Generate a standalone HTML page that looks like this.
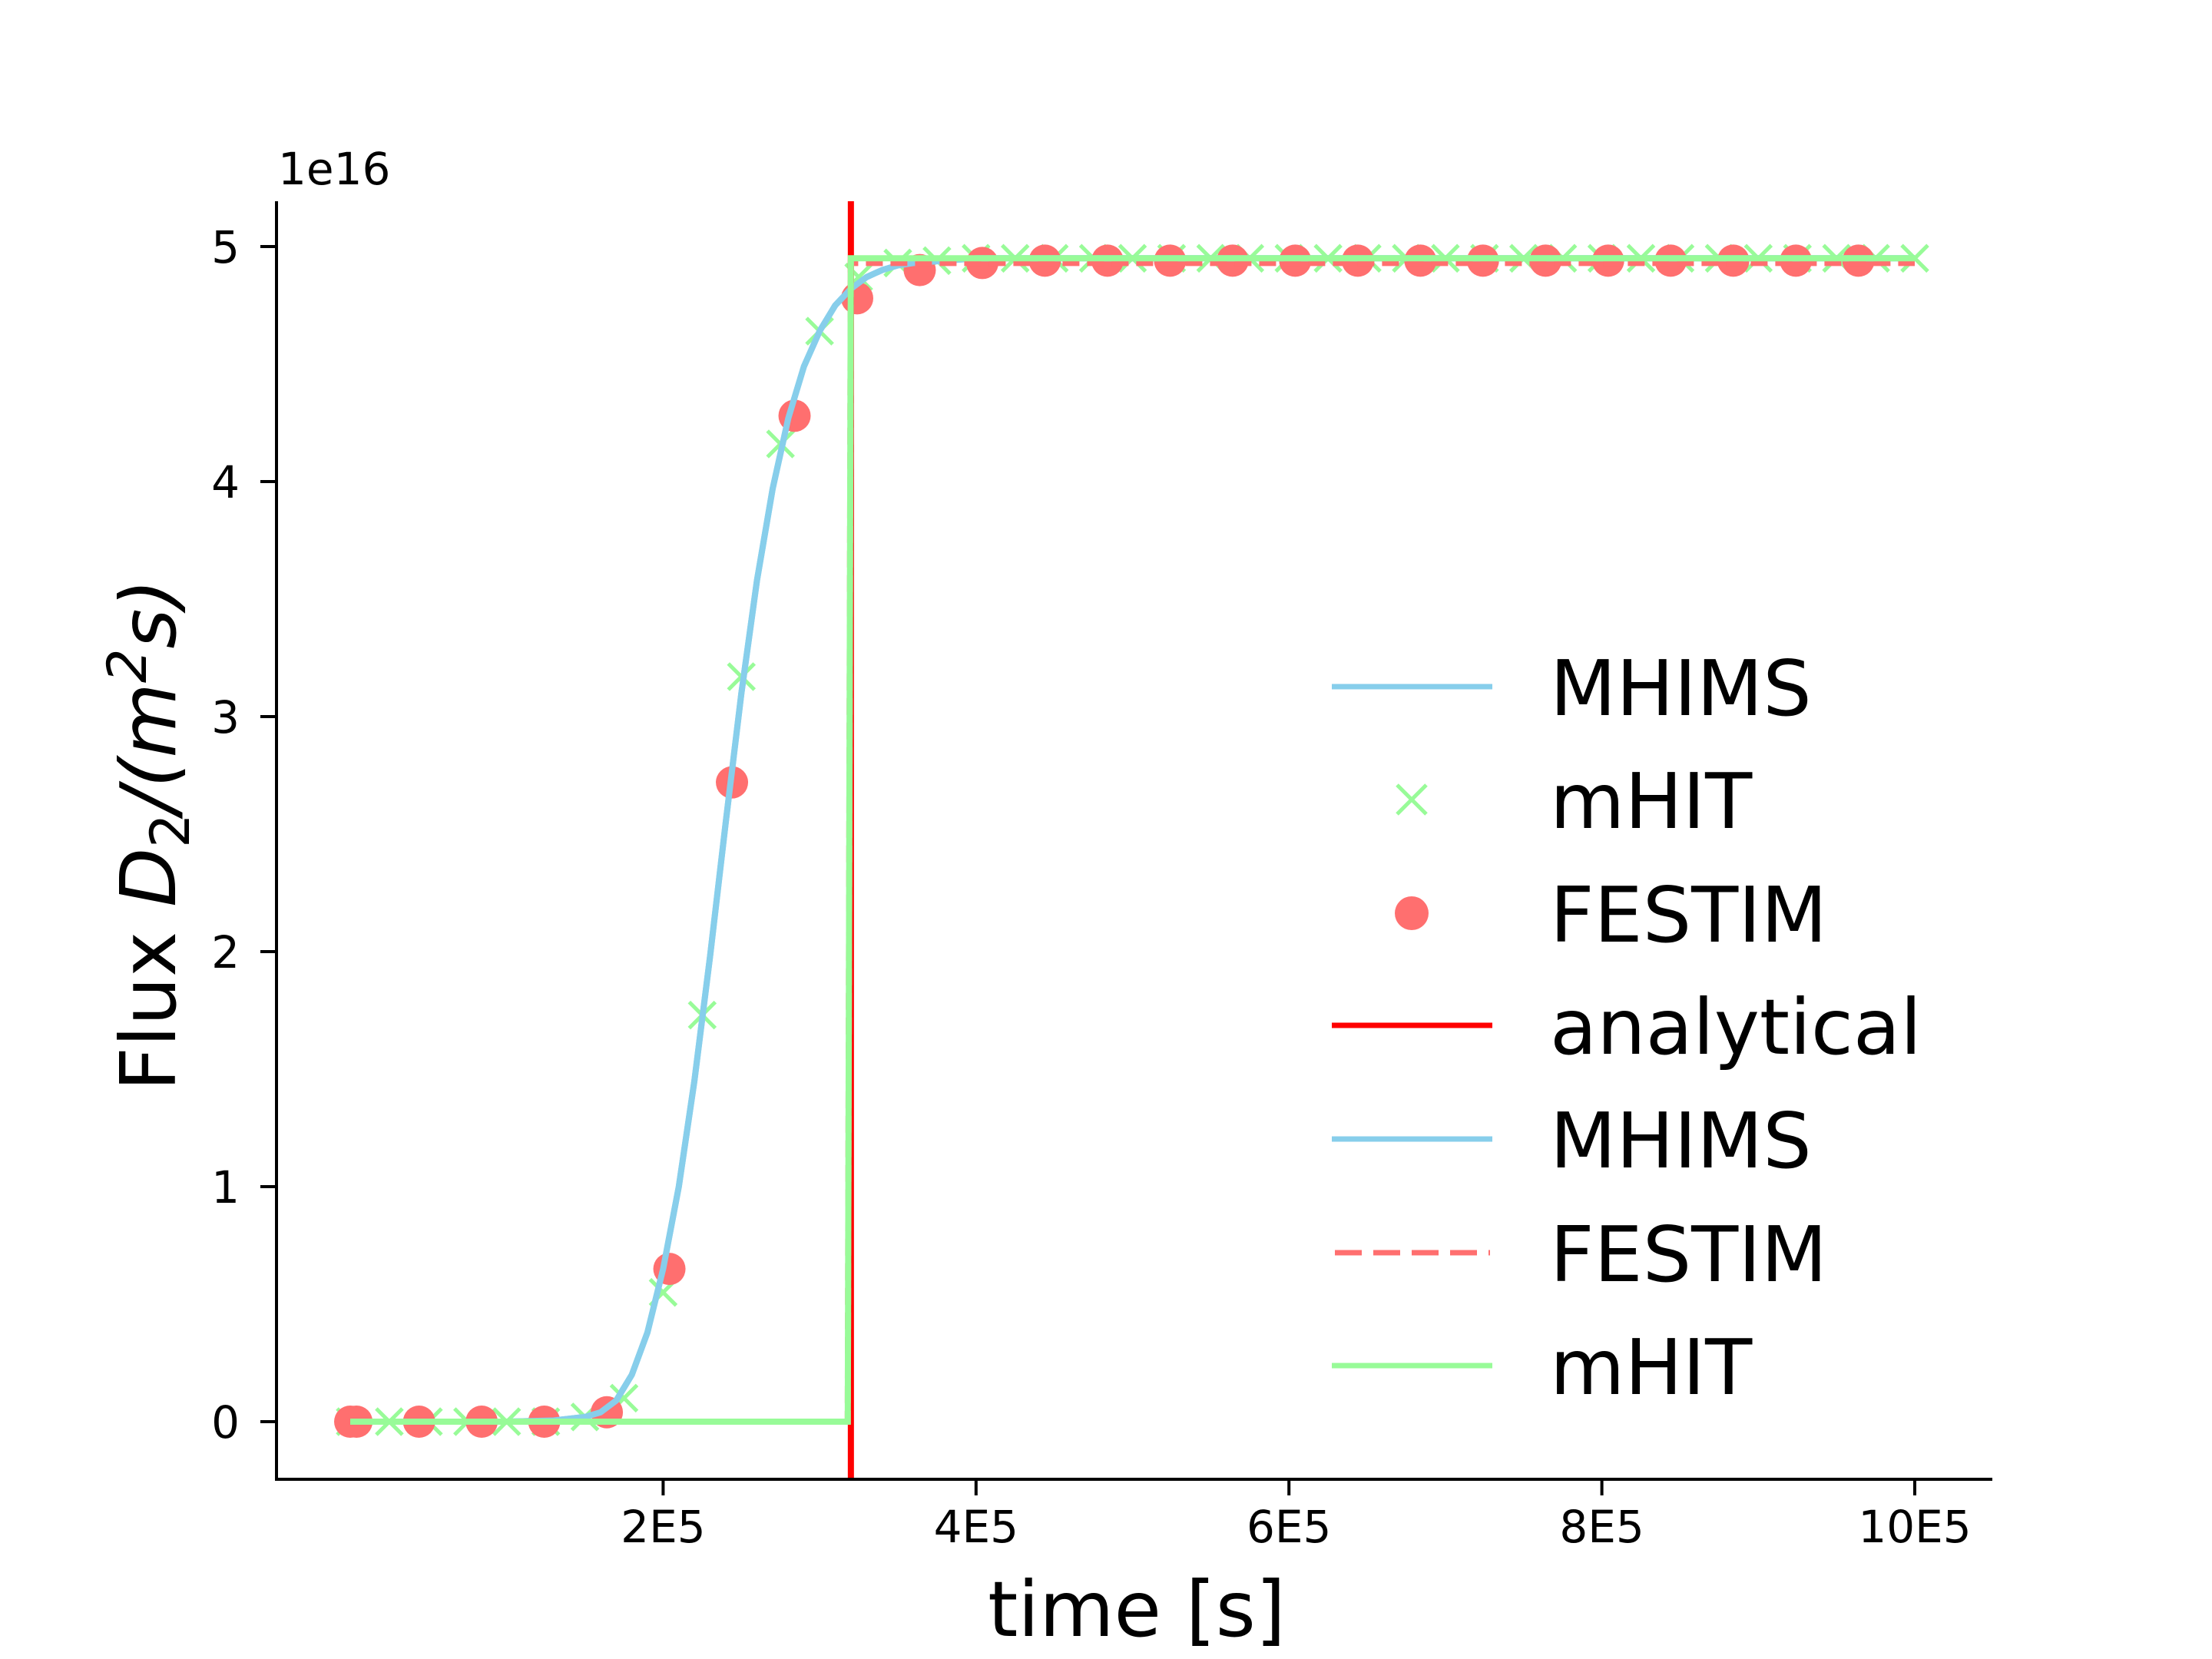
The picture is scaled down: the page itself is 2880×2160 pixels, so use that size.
<!DOCTYPE html>
<html><head><meta charset="utf-8"><style>
html,body{margin:0;padding:0;background:#fff}
svg{display:block}
text{font-family:"DejaVu Sans","Liberation Sans",sans-serif;fill:#000}
</style></head><body>
<svg id="chart" width="2880" height="2160" viewBox="0 0 2880 2160" xmlns="http://www.w3.org/2000/svg">
<g id="plot"></g>
<g id="axes"></g>
<g id="legend"></g>
</svg>
<script>
// ---- data (x in units of 1E5 s, y in units of 1e16) ----
const mhimsX = [0,0.5,1.0,1.3,1.5,1.6,1.7,1.8,1.9,2.0,2.1,2.2,2.3,2.4,2.5,2.6,2.7,2.8,2.9,3.0,3.1,3.2,3.3,3.4,3.5,3.6,3.8,4.0,5.0,7.0,10.0];
const mhimsY = [0,0,0,0.005,0.02,0.04,0.09,0.2,0.38,0.65,1.0,1.45,1.98,2.55,3.1,3.58,3.97,4.27,4.49,4.64,4.75,4.82,4.87,4.9,4.92,4.93,4.94,4.95,4.95,4.95,4.95];
const mhitMarkX = [0,0.25,0.5,0.75,1.0,1.25,1.5,1.75,2.0,2.25,2.5,2.75,3.0,3.25,3.5,3.75,4.0,4.25,4.5,4.75,5.0,5.25,5.5,5.75,6.0,6.25,6.5,6.75,7.0,7.25,7.5,7.75,8.0,8.25,8.5,8.75,9.0,9.25,9.5,9.75,10.0];
const mhitMarkY = [0,0,0,0,0,0,0.02,0.1,0.55,1.73,3.17,4.16,4.64,4.87,4.93,4.94,4.95,4.95,4.95,4.95,4.95,4.95,4.95,4.95,4.95,4.95,4.95,4.95,4.95,4.95,4.95,4.95,4.95,4.95,4.95,4.95,4.95,4.95,4.95,4.95,4.95];
const festimMarkX = [0.0,0.04,0.44,0.84,1.24,1.64,2.04,2.44,2.84,3.24,3.64,4.04,4.44,4.84,5.24,5.64,6.04,6.44,6.84,7.24,7.64,8.04,8.44,8.84,9.24,9.64];
const festimMarkY = [0,0,0,0,0,0.04,0.65,2.72,4.28,4.78,4.9,4.93,4.94,4.94,4.94,4.94,4.94,4.94,4.94,4.94,4.94,4.94,4.94,4.94,4.94,4.94];
const analyticalX = 3.2;
const stepX = [0,3.18,3.2,10.0];
const mhitStepY = [0,0,4.95,4.95];
const festimStepY = [0,0,4.93,4.93];
const xTicks = [2,4,6,8,10];
const xTickLabels = ["2E5","4E5","6E5","8E5","10E5"];
const yTicks = [0,1,2,3,4,5];
const yTickLabels = ["0","1","2","3","4","5"];
const legendLabels = ["MHIMS","mHIT","FESTIM","analytical","MHIMS","FESTIM","mHIT"];

// ---- axes mapping ----
const L=360,R=2594,T=262,B=1926;
const X0=456,XU=203.7, Y0=1851, YU=306;
const sx=v=>X0+v*XU, sy=v=>Y0-v*YU;
const NS="http://www.w3.org/2000/svg";
function mk(tag,attrs,parent){const e=document.createElementNS(NS,tag);for(const k in attrs)e.setAttribute(k,attrs[k]);parent.appendChild(e);return e;}
const plot=document.getElementById('plot'),axes=document.getElementById('axes'),leg=document.getElementById('legend');
const SKY="#87CEEB",GREEN="#98FB98",RED="#FF0000",SALMON="#FF6F6F";
function pathOf(xs,ys){return xs.map((x,i)=>(i?'L':'M')+sx(x).toFixed(1)+','+sy(ys[i]).toFixed(1)).join(' ');}
const LW=8;
let e;
e=mk('path',{d:pathOf(mhimsX,mhimsY),fill:'none',stroke:SKY,'stroke-width':LW,'stroke-linejoin':'round'},plot);


const gx=mk('g',{},plot);


mhitMarkX.forEach((x,i)=>{const cx=sx(x),cy=sy(mhitMarkY[i]),h=17;
 const p=mk('path',{d:`M${cx-h},${cy-h}L${cx+h},${cy+h}M${cx-h},${cy+h}L${cx+h},${cy-h}`,stroke:GREEN,'stroke-width':5,fill:'none'},gx);
 
 });
const gd=mk('g',{},plot);


festimMarkX.forEach((x,i)=>{const c=mk('circle',{cx:sx(x),cy:sy(festimMarkY[i]),r:21,fill:SALMON},gd);
 
 });
e=mk('line',{x1:sx(analyticalX),x2:sx(analyticalX),y1:T,y2:B,stroke:RED,'stroke-width':LW},plot);


e=mk('path',{d:pathOf(mhimsX,mhimsY),fill:'none',stroke:SKY,'stroke-width':LW,'stroke-linejoin':'round'},plot);


e=mk('path',{d:pathOf(stepX,festimStepY),fill:'none',stroke:SALMON,'stroke-width':LW,'stroke-dasharray':'22,10'},plot);


e=mk('path',{d:pathOf(stepX,mhitStepY),fill:'none',stroke:GREEN,'stroke-width':LW},plot);



// spines
e=mk('path',{d:`M${L},${T}L${L},${B}L${R},${B}`,fill:'none',stroke:'#000','stroke-width':4},axes);


xTicks.forEach((v,i)=>{const x=sx(v);
 const t=mk('line',{x1:x,x2:x,y1:B,y2:B+21,stroke:'#000','stroke-width':4},axes);
 
 
 const l=mk('text',{x:x,y:B+82,'font-size':58,'text-anchor':'middle'},axes);l.textContent=xTickLabels[i];
 
 });
yTicks.forEach((v,i)=>{const y=sy(v);
 const t=mk('line',{x1:L-21,x2:L,y1:y,y2:y,stroke:'#000','stroke-width':4},axes);
 
 
 const l=mk('text',{x:312,y:y+21,'font-size':58,'text-anchor':'end'},axes);l.textContent=yTickLabels[i];
 
 });
e=mk('text',{x:362,y:240,'font-size':58},axes);e.textContent='1e16';


e=mk('text',{x:1480,y:2130,'font-size':100,'text-anchor':'middle'},axes);e.textContent='time [s]';


e=mk('text',{x:0,y:0,'font-size':100,'text-anchor':'middle',transform:'translate(228,1087) rotate(-90)'},axes);
e.innerHTML='Flux <tspan font-style="italic">D</tspan><tspan font-size="70" dy="18">2</tspan><tspan dy="-18" font-style="italic">/(m</tspan><tspan font-size="70" dy="-38" font-style="italic">2</tspan><tspan dy="38" font-style="italic">s)</tspan>';



// legend
const rows=[894,1041,1189,1335,1483,1631,1778];
const kinds=[['line',SKY],['x',GREEN],['dot',SALMON],['line',RED],['line',SKY],['dash',SALMON],['line',GREEN]];
rows.forEach((y,i)=>{const g=mk('g',{},leg);
 
 
 const [k,c]=kinds[i];
 if(k==='line')mk('line',{x1:1734,x2:1943,y1:y,y2:y,stroke:c,'stroke-width':7},g);
 else if(k==='dash')mk('line',{x1:1738,x2:1940,y1:y,y2:y,stroke:c,'stroke-width':7,'stroke-dasharray':'35,15'},g);
 else if(k==='x'){const cx=1838,h=19;mk('path',{d:`M${cx-h},${y-h}L${cx+h},${y+h}M${cx-h},${y+h}L${cx+h},${y-h}`,stroke:c,'stroke-width':5},g);}
 else mk('circle',{cx:1838,cy:y,r:22,fill:c},g);
 const t=mk('text',{x:2018,y:y+37,'font-size':100},g);t.textContent=legendLabels[i];});
</script>
</body></html>
